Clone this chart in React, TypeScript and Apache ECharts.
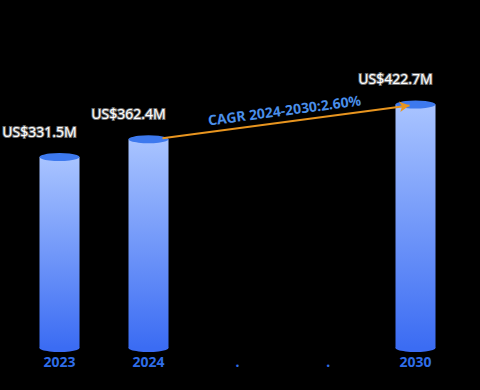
import React, { useEffect, useRef } from "react";
import * as echarts from "echarts";

const categories = ["2023", "2024", ".", " .", "2030"];
const values: (number | null)[] = [331.5, 362.4, null, null, 422.7];
const valueLabels = ["US$331.5M", "US$362.4M", "", "", "US$422.7M"];
const cagrText = "CAGR 2024-2030:2.60%";
const cagrFrom = { cat: "2024", value: 362.4 };
const cagrTo = { cat: "2030", value: 422.7 };

export default function App() {
  const ref = useRef<HTMLDivElement>(null);
  useEffect(() => {
    if (!ref.current) return;
    const chart = echarts.init(ref.current, null, { renderer: "svg" });
    const barData = values.map((v) => (v == null ? "-" : v));
    const option: any = {
      animation: false,
      backgroundColor: "#000000",
      grid: { left: 15, right: 20, top: 60, bottom: 42 },
      xAxis: {
        type: "category",
        data: categories,
        axisLine: { show: false },
        axisTick: { show: false },
        axisLabel: {
          color: "#2f6de8",
          fontSize: 14,
          fontWeight: "bold",
          margin: 6,
          fontFamily: "Noto Sans",
        },
      },
      yAxis: {
        type: "value",
        min: 0,
        max: 500,
        show: false,
        splitLine: { show: false },
      },
      series: [
        {
          type: "bar",
          data: barData,
          barWidth: 40,
          z: 2,
          itemStyle: {
            color: new echarts.graphic.LinearGradient(0, 0, 0, 1, [
              { offset: 0, color: "#a9c4ff" },
              { offset: 1, color: "#3b6cf3" },
            ]),
          },
          label: {
            show: true,
            position: "top",
            distance: 19,
            offset: [-20, 0],
            formatter: (p: any) => valueLabels[p.dataIndex],
            color: "#ffffff",
            fontSize: 14,
            fontFamily: "Noto Sans",
            textBorderColor: "#6a6a6a",
            textBorderWidth: 2,
          },
        },
        {
          type: "pictorialBar",
          data: barData,
          symbol: "circle",
          symbolSize: [40, 8],
          symbolPosition: "end",
          symbolOffset: [0, -4],
          z: 3,
          itemStyle: { color: "#3d79ee" },
        },
        {
          type: "pictorialBar",
          data: barData,
          symbol: "circle",
          symbolSize: [40, 8],
          symbolPosition: "start",
          symbolOffset: [0, 4],
          z: 1,
          itemStyle: { color: "#3b6cf3" },
        },
      ],
    };
    chart.setOption(option);
    const p1 = chart.convertToPixel({ seriesIndex: 0 }, [cagrFrom.cat, cagrFrom.value]);
    const p2 = chart.convertToPixel({ seriesIndex: 0 }, [cagrTo.cat, cagrTo.value]);
    chart.setOption({
      series: [
        {
          markLine: {
            silent: true,
            symbol: ["none", "arrow"],
            symbolSize: [8, 10],
            z: 10,
            lineStyle: { color: "#e8951f", width: 2, type: "solid" },
            label: {
              show: true,
              position: "insideMiddleTop",
              formatter: cagrText,
              color: "#4a8fea",
              fontSize: 14,
              fontWeight: "bold",
              fontFamily: "Noto Sans",
              distance: 5,
            },
            data: [
              [
                { x: p1[0] + 14, y: p1[1] - 1 },
                { x: p2[0] - 6, y: p2[1] + 1 },
              ],
            ],
          },
        },
      ],
    });
    return () => chart.dispose();
  }, []);
  return <div ref={ref} style={{ width: 480, height: 390, position: "absolute", left: 0, top: 0 }} />;
}
